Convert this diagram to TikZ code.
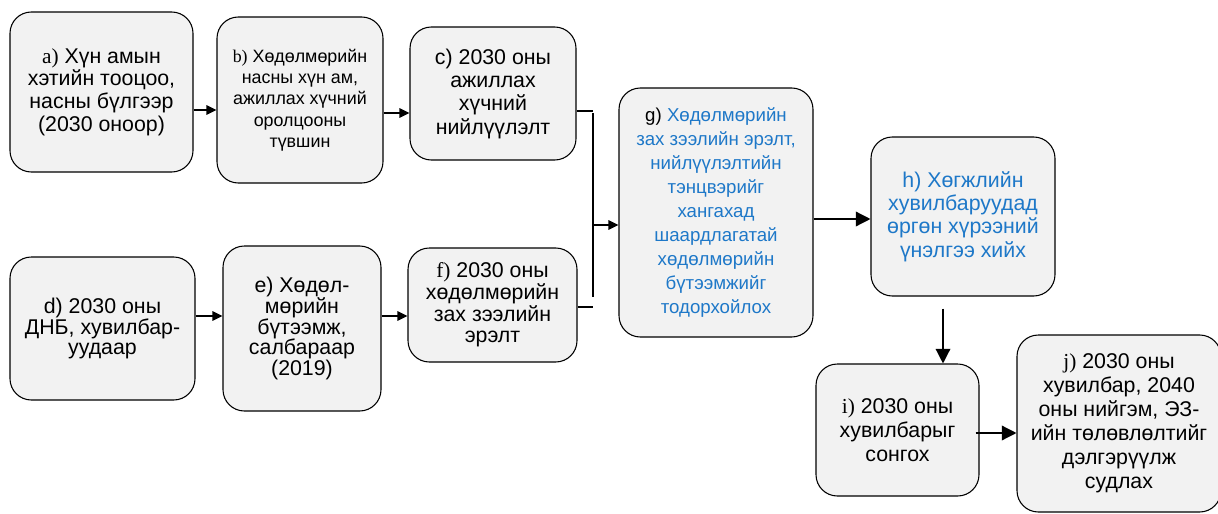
\documentclass[tikz,border=0pt]{standalone}
\usepackage{fontspec}
\setmainfont{Liberation Sans}
\newfontfamily\labfont{Liberation Serif}
\usetikzlibrary{arrows.meta}
\definecolor{boxgray}{HTML}{F2F2F2}
\definecolor{textblue}{HTML}{1E78C8}
\newcommand{\fsz}[2]{\fontsize{#1}{#2}\selectfont}
\newcommand{\lab}[1]{{\labfont #1}}
\tikzstyle{box} = [draw=black, line width=0.8pt, rounded corners=16pt, fill=boxgray, align=center, inner sep=2pt, font=\fsz{16}{17}]
\tikzstyle{arrow} = [line width=1.4pt, -{Triangle[length=7.5pt,width=7pt]}]
\tikzstyle{bigarrow} = [line width=1pt, -{Triangle[length=11pt,width=11pt]}]
\tikzstyle{bar} = [line width=1.4pt]

\begin{document}
\begin{tikzpicture}[x=0.75pt,y=-0.75pt]
\useasboundingbox (0,0) rectangle (1218,514);

\node (a) [box, minimum width=137.25pt, minimum height=120pt] at (101.5,92)
 {\lab{a)} Хүн амын\\хэтийн тооцоо,\\насны бүлгээр\\(2030 оноор)};
\node (b) [box, font=\fsz{13.4}{16}, minimum width=124.5pt, minimum height=124.5pt] at (300,100)
 {\lab{b)} Хөдөлмөрийн\\насны хүн ам,\\ажиллах хүчний\\оролцооны\\түвшин};
\node (c) [box, font=\fsz{16}{17.5}, minimum width=124.5pt, minimum height=99.75pt] at (493,93.5)
 {c) 2030 оны\\ажиллах\\хүчний\\нийлүүлэлт};
\node (d) [box, font=\fsz{16}{15.6}, minimum width=138.75pt, minimum height=107.25pt] at (102.5,328.5)
 {d) 2030 оны\\ДНБ, хувилбар-\\уудаар};
\node (e) [box, font=\fsz{16}{15.6}, minimum width=118.5pt, minimum height=123.75pt] at (302,328.5)
 {e) Хөдөл-\\мөрийн\\бүтээмж,\\салбараар\\(2019)};
\node (f) [box, font=\fsz{16}{16.3}, minimum width=126.75pt, minimum height=85.5pt] at (492.5,305)
 {\lab{f)} 2030 оны\\хөдөлмөрийн\\зах зээлийн\\эрэлт};
\node (g) [box, font=\fsz{14}{18}, text=textblue, minimum width=145.5pt, minimum height=186.75pt] at (716,212.5)
 {\textcolor{black}{g)} Хөдөлмөрийн\\зах зээлийн эрэлт,\\нийлүүлэлтийн\\тэнцвэрийг\\хангахад\\шаардлагатай\\хөдөлмөрийн\\бүтээмжийг\\тодорхойлох};
\node (h) [box, font=\fsz{16}{17.5}, text=textblue, minimum width=138pt, minimum height=119.25pt] at (963,216.5)
 {h) Хөгжлийн\\хувилбаруудад\\өргөн хүрээний\\үнэлгээ хийх};
\node (i) [box, font=\fsz{16}{18}, minimum width=122.25pt, minimum height=99pt] at (897.5,430)
 {\lab{i)} 2030 оны\\хувилбарыг\\сонгох};
\node (j) [box, font=\fsz{16}{18}, minimum width=153pt, minimum height=132.75pt] at (1119,423.5)
 {\lab{j)} 2030 оны\\хувилбар, 2040\\оны нийгэм, ЭЗ-\\ийн төлөвлөлтийг\\дэлгэрүүлж\\судлах};

\coordinate (bartop) at (593,113);
\coordinate (barbot) at (593,297);
\coordinate (barmid) at (593,225);

\draw[arrow] (a.east |- 0,110) -- (b.west |- 0,110);
\draw[arrow] (b.east |- 0,113) -- (c.west |- 0,113);
\draw[arrow] (d.east |- 0,316) -- (e.west |- 0,316);
\draw[arrow] (e.east |- 0,316) -- (f.west |- 0,316);
\draw[bar] (c.east |- 0,111) -- (bartop |- 0,111);
\draw[bar] (bartop) -- (barbot);
\draw[bar] (f.east |- 0,307) -- (barbot |- 0,307);
\draw[arrow] (barmid) -- (g.west |- barmid);
\draw[bigarrow] (g.east |- 0,219) -- (h.west |- 0,219);
\draw[bigarrow] ([yshift=-9pt]h.south -| 943,0) -- (i.north -| 943,0);
\draw[bigarrow] ([xshift=-3pt]i.east |- 0,433) -- (j.west |- 0,433);
\end{tikzpicture}
\end{document}
